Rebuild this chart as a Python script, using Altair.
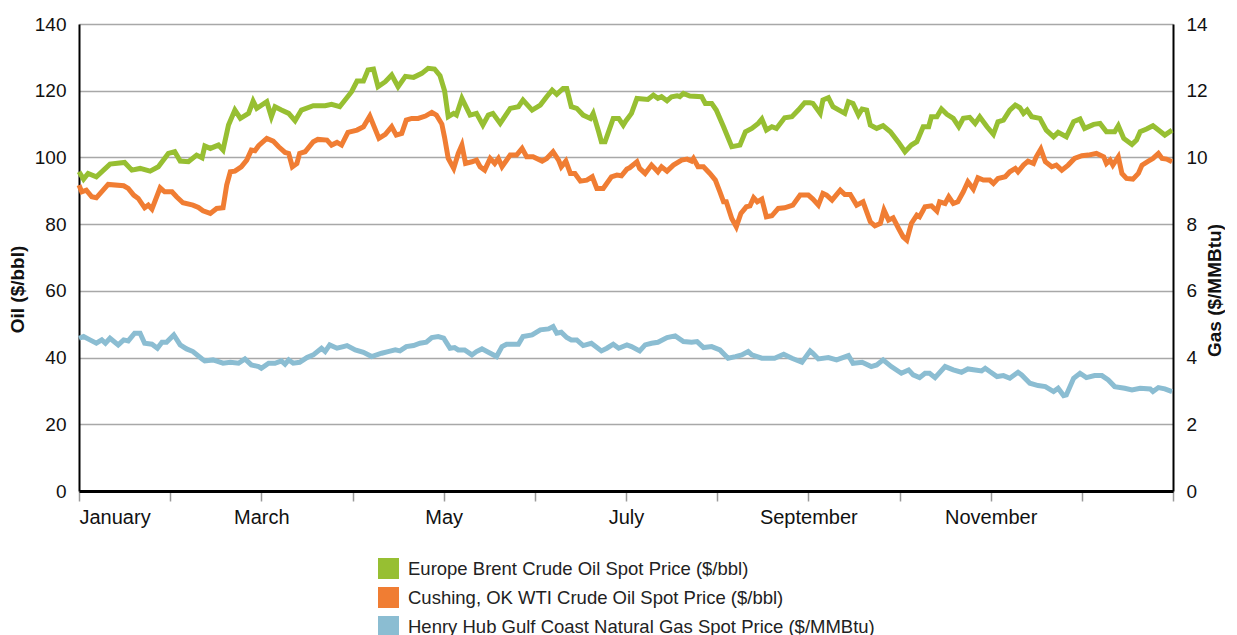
import altair as alt
import pandas as pd

series_names = [
    "Europe Brent Crude Oil Spot Price ($/bbl)",
    "Cushing, OK WTI Crude Oil Spot Price ($/bbl)",
    "Henry Hub Gulf Coast Natural Gas Spot Price ($/MMBtu)",
]
series_colors = ["#97bf32", "#f07d33", "#8bbdd2"]
month_labels = ["January", "March", "May", "July", "September", "November"]
oil_ticks = [0, 20, 40, 60, 80, 100, 120, 140]
gas_ticks = [0, 2, 4, 6, 8, 10, 12, 14]

# time in months since Jan 1 (0..12)
brent_t = [0, 0.05, 0.10, 0.19, 0.34, 0.50, 0.58, 0.67, 0.78, 0.87, 0.98, 1.05, 1.11, 1.20, 1.29, 1.35, 1.38, 1.44,
           1.53, 1.58, 1.64, 1.71, 1.77, 1.86, 1.91, 1.95, 2.06, 2.11, 2.15, 2.22, 2.30, 2.37, 2.44, 2.57, 2.70, 2.77,
           2.86, 2.99, 3.05, 3.12, 3.17, 3.23, 3.28, 3.36, 3.43, 3.50, 3.58, 3.67, 3.76, 3.83, 3.90, 3.96, 4.01, 4.05,
           4.11, 4.14, 4.20, 4.29, 4.36, 4.43, 4.49, 4.54, 4.62, 4.73, 4.82, 4.87, 4.97, 5.06, 5.13, 5.19, 5.24, 5.31,
           5.35, 5.40, 5.46, 5.53, 5.61, 5.64, 5.70, 5.73, 5.77, 5.86, 5.92, 5.97, 6.00, 6.06, 6.12, 6.24, 6.30, 6.35,
           6.39, 6.45, 6.50, 6.56, 6.59, 6.63, 6.70, 6.83, 6.87, 6.94, 6.99, 7.07, 7.16, 7.25, 7.31, 7.38, 7.45, 7.49,
           7.54, 7.60, 7.65, 7.74, 7.82, 7.89, 7.96, 8.02, 8.05, 8.13, 8.16, 8.22, 8.27, 8.40, 8.44, 8.49, 8.55, 8.59,
           8.64, 8.68, 8.75, 8.82, 8.90, 8.99, 9.06, 9.13, 9.19, 9.26, 9.32, 9.35, 9.41, 9.46, 9.52, 9.59, 9.65, 9.70,
           9.77, 9.83, 9.88, 9.96, 10.03, 10.08, 10.14, 10.21, 10.27, 10.32, 10.36, 10.40, 10.45, 10.54, 10.61, 10.69,
           10.74, 10.83, 10.91, 10.98, 11.03, 11.13, 11.20, 11.27, 11.36, 11.40, 11.46, 11.55, 11.60, 11.64, 11.71,
           11.78, 11.84, 11.91, 11.99]
brent_v = [95.7, 93.5, 95.2, 94.2, 98.0, 98.5, 96.2, 96.7, 95.9, 97.2, 101.2, 101.7, 98.9, 98.7, 100.7, 99.9, 103.4,
           102.7, 103.7, 102.2, 109.7, 114.2, 111.7, 113.2, 116.9, 114.7, 116.7, 112.2, 115.2, 114.2, 113.2, 111.0,
           114.2, 115.5, 115.5, 115.9, 115.2, 119.7, 122.9, 122.9, 126.2, 126.5, 121.2, 122.7, 124.7, 121.2, 124.3,
           124.0, 125.2, 126.7, 126.5, 124.5, 120.0, 112.2, 113.2, 112.7, 117.7, 112.7, 113.2, 109.7, 112.7, 113.2,
           110.2, 114.7, 115.2, 117.2, 114.2, 115.7, 118.2, 120.2, 118.9, 120.7, 120.7, 115.2, 114.7, 112.7, 111.7,
           113.2, 107.7, 104.7, 104.7, 111.7, 111.7, 109.7, 111.0, 113.2, 117.7, 117.4, 118.7, 117.7, 118.2, 117.0,
           118.2, 118.5, 118.2, 119.2, 118.4, 118.2, 116.2, 116.2, 114.2, 109.2, 103.2, 103.7, 107.7, 108.7, 110.2,
           111.5, 108.2, 109.2, 108.7, 111.9, 112.2, 114.2, 116.4, 116.4, 116.2, 113.2, 117.2, 117.9, 115.2, 113.2,
           116.7, 116.2, 112.7, 114.5, 114.2, 109.7, 108.7, 109.5, 107.7, 104.5, 101.7, 103.7, 104.7, 109.2, 109.2,
           112.2, 112.2, 114.5, 112.9, 111.7, 109.2, 111.7, 112.0, 110.2, 112.2, 109.2, 106.9, 110.7, 111.2, 114.2,
           115.7, 114.9, 113.2, 114.2, 112.2, 111.7, 108.2, 106.2, 107.5, 106.2, 110.7, 111.5, 108.7, 109.9, 110.2,
           107.7, 107.7, 109.5, 105.7, 103.9, 105.2, 107.7, 108.5, 109.5, 108.2, 106.7, 108.2]

wti_t = [0, 0.03, 0.08, 0.14, 0.19, 0.32, 0.49, 0.54, 0.60, 0.65, 0.72, 0.76, 0.80, 0.89, 0.94, 1.02, 1.07, 1.14, 1.25,
         1.31, 1.36, 1.44, 1.51, 1.58, 1.62, 1.66, 1.71, 1.78, 1.84, 1.89, 1.93, 1.97, 2.06, 2.13, 2.19, 2.26, 2.30,
         2.34, 2.39, 2.42, 2.48, 2.57, 2.62, 2.72, 2.77, 2.83, 2.88, 2.95, 3.05, 3.12, 3.19, 3.29, 3.36, 3.43, 3.48,
         3.54, 3.59, 3.65, 3.72, 3.80, 3.87, 3.92, 3.98, 4.01, 4.05, 4.11, 4.16, 4.20, 4.24, 4.31, 4.36, 4.40, 4.45,
         4.51, 4.56, 4.60, 4.64, 4.73, 4.80, 4.86, 4.91, 4.98, 5.08, 5.13, 5.20, 5.26, 5.29, 5.34, 5.39, 5.44, 5.50,
         5.57, 5.63, 5.68, 5.75, 5.84, 5.90, 5.95, 6.01, 6.04, 6.12, 6.15, 6.21, 6.28, 6.35, 6.39, 6.45, 6.52, 6.61,
         6.67, 6.72, 6.74, 6.79, 6.85, 6.92, 6.98, 7.03, 7.07, 7.10, 7.16, 7.21, 7.26, 7.32, 7.36, 7.40, 7.44, 7.49,
         7.54, 7.60, 7.67, 7.74, 7.83, 7.91, 8.00, 8.05, 8.11, 8.16, 8.20, 8.26, 8.35, 8.40, 8.46, 8.53, 8.60, 8.68,
         8.73, 8.79, 8.83, 8.88, 8.93, 8.99, 9.04, 9.08, 9.13, 9.19, 9.22, 9.28, 9.35, 9.41, 9.44, 9.50, 9.54, 9.59,
         9.64, 9.70, 9.75, 9.81, 9.86, 9.92, 9.99, 10.03, 10.08, 10.16, 10.21, 10.27, 10.30, 10.36, 10.41, 10.47,
         10.50, 10.55, 10.60, 10.67, 10.72, 10.78, 10.85, 10.92, 11.00, 11.07, 11.16, 11.24, 11.27, 11.31, 11.34,
         11.40, 11.44, 11.49, 11.56, 11.62, 11.66, 11.73, 11.78, 11.84, 11.88, 11.93, 11.99]
wti_v = [91.7, 89.7, 90.2, 88.2, 87.9, 91.9, 91.5, 90.7, 88.7, 87.7, 84.9, 85.7, 84.5, 90.9, 89.7, 89.7, 88.2, 86.4,
         85.7, 85.0, 84.0, 83.2, 84.7, 84.9, 91.7, 95.7, 95.9, 97.2, 99.2, 102.2, 102.0, 103.5, 105.7, 104.9, 103.2,
         101.5, 101.2, 97.2, 98.2, 101.2, 101.7, 104.7, 105.4, 105.2, 103.7, 104.5, 103.7, 107.5, 108.2, 109.2,
         112.4, 105.7, 106.9, 109.2, 106.7, 107.2, 111.2, 111.7, 111.7, 112.4, 113.5, 112.7, 110.0, 106.0, 99.7,
         96.7, 101.2, 103.7, 98.2, 98.7, 99.2, 97.2, 96.2, 99.7, 98.2, 99.7, 97.2, 100.7, 100.7, 102.7, 100.2,
         100.2, 98.9, 99.7, 101.7, 99.2, 97.2, 98.9, 95.2, 95.2, 92.9, 93.2, 94.2, 90.7, 90.7, 94.2, 94.7, 94.5,
         96.5, 96.9, 98.7, 96.7, 95.2, 97.7, 95.7, 97.2, 95.9, 97.7, 99.2, 99.5, 98.9, 99.7, 97.2, 97.2, 95.2, 93.2,
         89.7, 86.7, 86.7, 81.7, 79.2, 83.2, 85.2, 85.5, 87.9, 86.7, 87.5, 82.2, 82.5, 84.7, 84.9, 85.7, 88.7, 88.7,
         87.5, 85.7, 89.2, 88.7, 87.2, 90.2, 88.9, 88.9, 85.7, 86.7, 80.7, 79.5, 80.2, 84.2, 81.2, 81.9, 78.7, 76.2,
         75.2, 80.2, 82.7, 82.2, 85.2, 85.5, 83.9, 86.7, 86.2, 88.2, 86.2, 86.7, 89.7, 92.7, 90.5, 93.9, 93.2, 93.2,
         92.2, 93.7, 94.2, 95.7, 96.7, 95.7, 97.7, 98.9, 98.2, 100.2, 102.5, 98.7, 97.2, 97.7, 96.2, 97.7, 99.7,
         100.5, 100.7, 101.2, 100.2, 98.2, 99.2, 97.7, 100.2, 95.2, 93.7, 93.5, 95.2, 97.7, 98.9, 99.7, 101.2, 99.7,
         99.5, 98.7]

gas_t = [0, 0.05, 0.12, 0.19, 0.25, 0.29, 0.34, 0.43, 0.49, 0.54, 0.61, 0.67, 0.72, 0.80, 0.86, 0.91, 0.96, 1.04, 1.11,
         1.18, 1.25, 1.35, 1.38, 1.47, 1.58, 1.66, 1.75, 1.82, 1.89, 1.97, 2.00, 2.08, 2.15, 2.22, 2.26, 2.30, 2.35,
         2.42, 2.50, 2.57, 2.66, 2.70, 2.75, 2.83, 2.90, 2.94, 3.03, 3.12, 3.21, 3.32, 3.39, 3.47, 3.52, 3.59, 3.67,
         3.74, 3.81, 3.87, 3.94, 4.00, 4.07, 4.12, 4.16, 4.23, 4.31, 4.36, 4.42, 4.49, 4.58, 4.64, 4.69, 4.82, 4.87,
         4.97, 5.06, 5.15, 5.20, 5.24, 5.29, 5.35, 5.40, 5.46, 5.53, 5.62, 5.73, 5.79, 5.86, 5.92, 6.01, 6.06, 6.15,
         6.21, 6.28, 6.35, 6.45, 6.54, 6.63, 6.72, 6.78, 6.85, 6.94, 7.03, 7.12, 7.20, 7.27, 7.34, 7.38, 7.49, 7.63,
         7.73, 7.82, 7.93, 8.02, 8.05, 8.11, 8.22, 8.31, 8.44, 8.49, 8.59, 8.69, 8.75, 8.82, 8.91, 9.02, 9.10, 9.15,
         9.22, 9.28, 9.33, 9.39, 9.50, 9.59, 9.68, 9.75, 9.83, 9.90, 9.94, 9.99, 10.07, 10.14, 10.21, 10.30, 10.34,
         10.43, 10.52, 10.60, 10.69, 10.74, 10.80, 10.83, 10.91, 10.98, 11.05, 11.14, 11.22, 11.29, 11.36, 11.47,
         11.55, 11.64, 11.75, 11.78, 11.84, 11.91, 11.99]
gas_v = [4.58, 4.63, 4.53, 4.43, 4.53, 4.43, 4.58, 4.38, 4.53, 4.50, 4.73, 4.73, 4.43, 4.40, 4.28, 4.46, 4.46, 4.68,
         4.38, 4.26, 4.18, 3.96, 3.90, 3.93, 3.83, 3.86, 3.83, 3.96, 3.78, 3.73, 3.68, 3.83, 3.83, 3.90, 3.80, 3.93,
         3.83, 3.86, 4.00, 4.08, 4.28, 4.18, 4.38, 4.28, 4.33, 4.36, 4.23, 4.16, 4.03, 4.13, 4.18, 4.23, 4.20, 4.33,
         4.36, 4.43, 4.46, 4.60, 4.63, 4.58, 4.28, 4.30, 4.23, 4.23, 4.08, 4.18, 4.26, 4.16, 4.03, 4.33, 4.40, 4.40,
         4.63, 4.68, 4.83, 4.86, 4.93, 4.73, 4.76, 4.60, 4.53, 4.53, 4.36, 4.43, 4.20, 4.28, 4.40, 4.28, 4.38, 4.33,
         4.20, 4.38, 4.43, 4.46, 4.60, 4.65, 4.48, 4.46, 4.48, 4.30, 4.33, 4.23, 3.98, 4.03, 4.08, 4.18, 4.08, 3.98,
         3.98, 4.10, 3.98, 3.86, 4.20, 4.13, 3.96, 4.00, 3.93, 4.06, 3.83, 3.86, 3.73, 3.78, 3.93, 3.73, 3.53, 3.63,
         3.48, 3.40, 3.53, 3.53, 3.40, 3.73, 3.63, 3.56, 3.66, 3.63, 3.60, 3.68, 3.58, 3.43, 3.46, 3.38, 3.56, 3.48,
         3.23, 3.16, 3.13, 2.98, 3.08, 2.86, 2.88, 3.38, 3.53, 3.40, 3.46, 3.46, 3.33, 3.13, 3.08, 3.03, 3.08, 3.06,
         2.98, 3.10, 3.06, 2.98]

oil = pd.DataFrame({
    "t": brent_t + wti_t,
    "value": brent_v + wti_v,
    "series": [series_names[0]] * len(brent_t) + [series_names[1]] * len(wti_t),
})
gas = pd.DataFrame({"t": gas_t, "value": gas_v, "series": [series_names[2]] * len(gas_t)})

FONT = "Liberation Sans"
label_expr = ("datum.value % 2 == 0 && datum.value < 12 ? "
              + str(month_labels) + "[datum.value / 2] : ''")

x_axis = alt.Axis(
    values=list(range(13)), labelExpr=label_expr, title=None, grid=False,
    domainColor="#000000", domainWidth=3, tickColor="#9a9a9a", tickWidth=1.5, tickSize=10,
    labelPadding=6, labelFlush=True, labelFontSize=20, labelFont=FONT, labelColor="#111111",
)
x_enc = alt.X("t:Q", scale=alt.Scale(domain=[0, 12], nice=False, zero=False), axis=x_axis)
color_scale = alt.Scale(domain=series_names, range=series_colors)

# first (invisible) layer: its filled-square legend is the one kept when legends merge
legend_layer = alt.Chart(gas).mark_square().encode(
    x=x_enc,
    color=alt.Color(
        "series:N", scale=color_scale,
        legend=alt.Legend(
            title=None, orient="none", legendX=299, legendY=534, direction="vertical",
            symbolType="square", symbolSize=441, symbolOpacity=1, symbolStrokeWidth=0,
            labelFontSize=18.5, labelFont=FONT, labelColor="#222222",
            labelOffset=9, rowPadding=8, labelLimit=700,
        ),
    ),
    opacity=alt.value(0),
)

oil_layer = alt.Chart(oil).mark_line().encode(
    x=x_enc,
    y=alt.Y("value:Q", scale=alt.Scale(domain=[0, 140], nice=False),
            axis=alt.Axis(orient="left", title="Oil ($/bbl)", values=oil_ticks, grid=True,
                          gridColor="#a8a8a8", gridWidth=1.5, domainColor="#000000", domainWidth=2,
                          ticks=False, labelPadding=13, labelFontSize=19, labelFont=FONT,
                          labelColor="#111111", titleFont=FONT, titleFontSize=19, titleFontWeight="bold",
                          titleColor="#111111", titlePadding=7, titleY=265)),
    color=alt.Color("series:N", scale=color_scale),
    strokeWidth=alt.value(5),
)

gas_layer = alt.Chart(gas).mark_line().encode(
    x=x_enc,
    y=alt.Y("value:Q", scale=alt.Scale(domain=[0, 14], nice=False),
            axis=alt.Axis(orient="right", title="Gas ($/MMBtu)", values=gas_ticks, grid=False,
                          domainColor="#000000", domainWidth=2, ticks=False, labelPadding=13,
                          labelFontSize=19, labelFont=FONT, labelColor="#111111", titleFont=FONT,
                          titleFontSize=19, titleFontWeight="bold", titleColor="#111111",
                          titleAngle=270, titlePadding=17, titleY=266)),
    color=alt.Color("series:N", scale=color_scale),
    strokeWidth=alt.value(5),
)

chart = (
    alt.layer(legend_layer, oil_layer, gas_layer)
    .resolve_scale(y="independent")
    .properties(width=1094, height=467, padding={"left": 0, "top": 7, "right": 0, "bottom": 0})
    .configure_view(stroke=None)
    .configure(background="white")
)

chart.save("out.html", embed_options={"renderer": "svg", "actions": False})
